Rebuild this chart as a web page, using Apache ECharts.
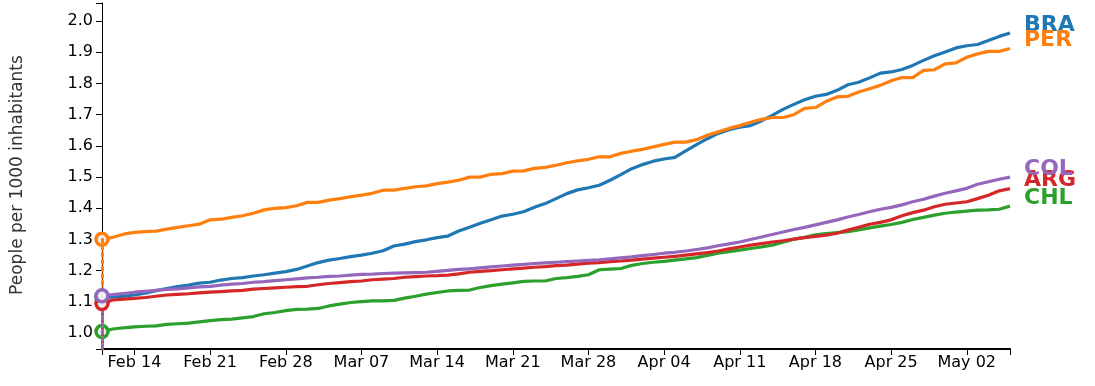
<!DOCTYPE html>
<html>
<head>
<meta charset="utf-8">
<script src="https://cdn.jsdelivr.net/npm/echarts@6/dist/echarts.min.js"></script>
<style>
html,body{margin:0;padding:0;background:#fff;}
#chart{width:1095px;height:386px;}
</style>
</head>
<body>
<div id="chart"></div>
<script>
// Daily dates: Feb 11 .. May 06 (85 days)
const startDate = [2021, 1, 11];
const dayCount = 85;
const monthNames = ['Jan','Feb','Mar','Apr','May','Jun','Jul','Aug','Sep','Oct','Nov','Dec'];
const categories = [];
for (let i = 0; i < dayCount; i++) {
  const d = new Date(Date.UTC(startDate[0], startDate[1], startDate[2] + i));
  categories.push(monthNames[d.getUTCMonth()] + ' ' + String(d.getUTCDate()).padStart(2, '0'));
}
const xTickLabels = ['Feb 14','Feb 21','Feb 28','Mar 07','Mar 14','Mar 21','Mar 28','Apr 04','Apr 11','Apr 18','Apr 25','May 02'];
const yTickValues = [1.0,1.1,1.2,1.3,1.4,1.5,1.6,1.7,1.8,1.9,2.0];
const yMin = 0.949, yMax = 2.058;

const seriesNames = ['BRA','PER','CHL','ARG','COL'];
const seriesColors = ['#1f77b4','#ff7f0e','#2ca02c','#d62728','#9467bd'];

const bra = [1.114,1.115,1.118,1.122,1.128,1.136,1.143,1.149,1.154,1.160,
1.163,1.170,1.175,1.178,1.183,1.187,1.192,1.197,1.204,1.215,
1.226,1.234,1.239,1.245,1.250,1.256,1.264,1.279,1.285,1.293,
1.299,1.306,1.311,1.327,1.339,1.352,1.363,1.375,1.381,1.389,
1.403,1.415,1.431,1.447,1.459,1.466,1.474,1.490,1.508,1.527,
1.540,1.551,1.558,1.563,1.584,1.604,1.623,1.640,1.652,1.660,
1.665,1.680,1.698,1.717,1.733,1.748,1.759,1.765,1.778,1.796,
1.804,1.818,1.833,1.837,1.845,1.858,1.874,1.889,1.901,1.914,
1.921,1.925,1.938,1.951,1.962];

const per = [1.301,1.307,1.317,1.323,1.325,1.327,1.333,1.339,1.344,1.349,
1.363,1.365,1.371,1.376,1.384,1.395,1.400,1.402,1.408,1.419,
1.419,1.426,1.431,1.437,1.442,1.448,1.458,1.458,1.464,1.469,
1.472,1.479,1.484,1.490,1.500,1.500,1.509,1.511,1.519,1.520,
1.528,1.531,1.538,1.546,1.552,1.557,1.565,1.565,1.576,1.583,
1.589,1.597,1.605,1.612,1.612,1.620,1.634,1.645,1.656,1.665,
1.676,1.685,1.691,1.691,1.700,1.720,1.723,1.743,1.757,1.759,
1.773,1.783,1.794,1.809,1.819,1.819,1.842,1.844,1.863,1.866,
1.884,1.895,1.903,1.903,1.912];

const col = [1.120,1.123,1.127,1.131,1.134,1.137,1.140,1.142,1.145,1.148,
1.150,1.154,1.157,1.159,1.163,1.165,1.168,1.171,1.174,1.177,
1.179,1.182,1.183,1.186,1.188,1.189,1.191,1.192,1.193,1.194,
1.195,1.198,1.201,1.204,1.206,1.209,1.212,1.215,1.218,1.220,
1.223,1.225,1.227,1.229,1.231,1.233,1.235,1.238,1.241,1.244,
1.248,1.252,1.256,1.259,1.263,1.268,1.273,1.280,1.286,1.292,
1.300,1.308,1.316,1.324,1.332,1.339,1.347,1.355,1.363,1.372,
1.380,1.389,1.397,1.403,1.411,1.421,1.429,1.439,1.448,1.456,
1.464,1.477,1.485,1.493,1.500];

const arg = [1.095,1.106,1.109,1.111,1.114,1.118,1.122,1.124,1.126,1.129,
1.131,1.133,1.135,1.137,1.141,1.143,1.145,1.147,1.149,1.150,
1.155,1.159,1.162,1.165,1.167,1.171,1.173,1.175,1.179,1.181,
1.183,1.184,1.186,1.190,1.195,1.198,1.200,1.203,1.206,1.208,
1.211,1.213,1.216,1.218,1.221,1.224,1.226,1.229,1.231,1.234,
1.237,1.240,1.243,1.246,1.250,1.254,1.258,1.263,1.270,1.276,
1.282,1.287,1.292,1.296,1.301,1.306,1.310,1.314,1.320,1.330,
1.339,1.349,1.355,1.363,1.376,1.386,1.394,1.405,1.413,1.417,
1.421,1.431,1.442,1.456,1.463];

const chl = [1.005,1.013,1.017,1.020,1.022,1.023,1.028,1.030,1.032,1.036,
1.040,1.043,1.045,1.049,1.053,1.062,1.066,1.072,1.076,1.077,
1.079,1.087,1.093,1.098,1.101,1.103,1.103,1.105,1.112,1.118,
1.125,1.130,1.135,1.137,1.138,1.146,1.152,1.157,1.161,1.166,
1.167,1.167,1.175,1.178,1.182,1.187,1.203,1.205,1.207,1.217,
1.223,1.227,1.230,1.234,1.238,1.242,1.249,1.256,1.261,1.266,
1.271,1.276,1.282,1.291,1.301,1.307,1.315,1.319,1.322,1.325,
1.331,1.337,1.343,1.348,1.355,1.364,1.371,1.378,1.384,1.388,
1.391,1.394,1.395,1.397,1.407];

const seriesData = [bra, per, chl, arg, col];

const FONT = 'DejaVu Sans';
const chart = echarts.init(document.getElementById('chart'), null, {renderer: 'canvas'});

const series = seriesData.map((vals, k) => ({
  name: seriesNames[k],
  type: 'line',
  data: vals,
  smooth: false,
  symbol: 'circle',
  showSymbol: true,
  showAllSymbol: true,
  symbolSize: (v, p) => p.dataIndex === 0 ? 12 : 0,
  itemStyle: { color: '#eeeeee', borderColor: seriesColors[k], borderWidth: 3.5 },
  lineStyle: { color: seriesColors[k], width: 3.2 },
  emphasis: { disabled: true },
  endLabel: {
    show: true,
    formatter: '{a}',
    color: seriesColors[k],
    fontFamily: FONT,
    fontWeight: 'bold',
    fontSize: 22,
    distance: 14,
    offset: [0, -8],
    verticalAlign: 'middle'
  },
  markLine: {
    silent: true,
    symbol: 'none',
    animation: false,
    label: { show: false },
    lineStyle: { color: seriesColors[k], type: [3, 4], width: 3, cap: 'round' },
    data: [[{ coord: [0, vals[0]] }, { coord: [0, yMin] }]]
  },
  z: 2 + k
}));

const option = {
  animation: false,
  backgroundColor: '#ffffff',
  grid: { left: 102, right: 85, top: 3, bottom: 37, containLabel: false },
  xAxis: {
    type: 'category',
    data: categories,
    boundaryGap: false,
    axisLine: { show: true, lineStyle: { color: '#000', width: 2 } },
    axisTick: {
      show: true, length: 6, lineStyle: { color: '#000', width: 1 },
      interval: (i, v) => i === 0 || i === dayCount - 1 || xTickLabels.indexOf(v) >= 0
    },
    axisLabel: {
      interval: (i, v) => xTickLabels.indexOf(v) >= 0,
      color: '#000', fontFamily: FONT, fontSize: 16, margin: 6
    },
    splitLine: { show: false }
  },
  yAxis: {
    type: 'value',
    min: yMin, max: yMax,
    axisLine: { show: true, lineStyle: { color: '#000', width: 1 } },
    axisTick: { show: true, length: 6, lineStyle: { color: '#000' }, customValues: [yMin].concat(yTickValues, [yMax]) },
    axisLabel: {
      customValues: yTickValues,
      formatter: v => v.toFixed(1),
      color: '#000', fontFamily: FONT, fontSize: 16, margin: 9
    },
    splitLine: { show: false }
  },
  graphic: [{
    type: 'text',
    x: 18, y: 175,
    rotation: Math.PI / 2,
    style: {
      text: 'People per 1000 inhabitants',
      fill: '#333', font: '17px "DejaVu Sans"',
      textAlign: 'center', textVerticalAlign: 'middle'
    }
  }],
  series: series
};
chart.setOption(option);
</script>
</body>
</html>
